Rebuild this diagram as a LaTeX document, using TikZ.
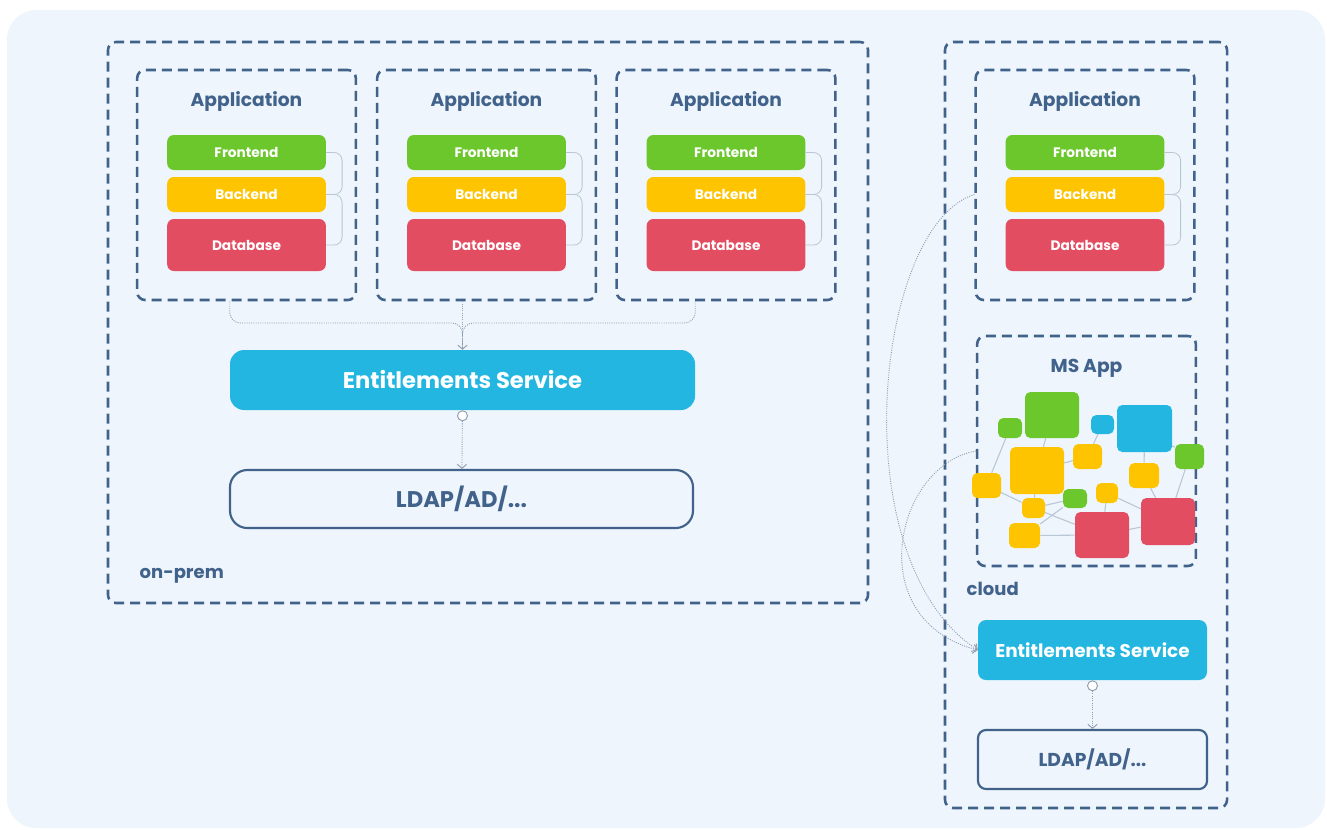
\documentclass[tikz,border=0pt]{standalone}
\usepackage{fontspec}
\setmainfont{Poppins}
\usepackage{tikz}
\usetikzlibrary{positioning,calc,arrows.meta,backgrounds}

\definecolor{bgblue}{HTML}{EEF5FC}
\definecolor{navy}{HTML}{41628B}
\definecolor{fegreen}{HTML}{6CC72C}
\definecolor{beyellow}{HTML}{FFC400}
\definecolor{dbred}{HTML}{E34D62}
\definecolor{escyan}{HTML}{23B6E1}
\definecolor{dotgray}{HTML}{8E9DB0}
\definecolor{linkgray}{HTML}{B8C6D5}

\begin{document}
\begin{tikzpicture}[x=0.75pt, y=-0.75pt,
    zone/.style={draw=navy, line width=1.9pt, dash pattern=on 7.5pt off 4.5pt, rounded corners=6pt, inner sep=0pt},
    appbox/.style={zone, minimum width=164pt, minimum height=172.5pt},
    title/.style={text=navy, font=\bfseries\fontsize{14}{16}\selectfont},
    zonelabel/.style={text=navy, font=\bfseries\fontsize{13.5}{15}\selectfont, anchor=west},
    layer/.style={rounded corners=5pt, minimum width=119pt, minimum height=26.25pt, inner sep=0pt, text=white, font=\bfseries\fontsize{10.3}{12}\selectfont},
    frontend/.style={layer, fill=fegreen},
    backend/.style={layer, fill=beyellow},
    database/.style={layer, fill=dbred, minimum height=39pt},
    service/.style={fill=escyan, text=white, inner sep=0pt, font=\bfseries\fontsize{17}{20}\selectfont},
    directory/.style={draw=navy, fill=bgblue, line width=1.6pt, text=navy, inner sep=0pt, font=\bfseries\fontsize{17}{20}\selectfont},
    bracket/.style={draw=linkgray, line width=0.6pt, rounded corners=6pt},
    flow/.style={draw=dotgray, line width=0.7pt, densely dotted, -{Straight Barb[length=3pt, width=7pt]}},
    feed/.style={flow, -},
    port/.style={circle, draw=dotgray, fill=white, line width=0.7pt, minimum size=7.5pt, inner sep=0pt},
    blob/.style={rounded corners=4pt, inner sep=0pt},
    link/.style={draw=linkgray, line width=0.8pt}
]

\useasboundingbox (0,0) rectangle (1327,829);
\begin{scope}[on background layer]
\fill[white] (0,0) rectangle (1327,829);
\fill[bgblue, rounded corners=22pt] (7,10) rectangle (1325,828);
\end{scope}

% Zones
\node[zone, minimum width=570pt, minimum height=420.75pt] (onprem) at (488,322.5) {};
\node[zone, minimum width=211.5pt, minimum height=574.5pt] (cloud) at (1086,425) {};
\node[zonelabel] (onpremlabel) at (135,576) {on-prem};
\node[zonelabel] (cloudlabel) at (962,589) {cloud};

% Application 1
\node[appbox] (app1) at (246.5,185) {};
\node[title] (app1t) at (246.5,102) {Application};
\node[frontend] (fe1) at (246.5,152.5) {Frontend};
\node[backend] (be1) at (246.5,194.5) {Backend};
\node[database] (db1) at (246.5,245) {Database};
\draw[bracket] (fe1.east) -- ++(16,0) |- (be1.east);
\draw[bracket] (be1.east) -- ++(16,0) |- (db1.east);

% Application 2
\node[appbox] (app2) at (486.5,185) {};
\node[title] (app2t) at (486.5,102) {Application};
\node[frontend] (fe2) at (486.5,152.5) {Frontend};
\node[backend] (be2) at (486.5,194.5) {Backend};
\node[database] (db2) at (486.5,245) {Database};
\draw[bracket] (fe2.east) -- ++(16,0) |- (be2.east);
\draw[bracket] (be2.east) -- ++(16,0) |- (db2.east);

% Application 3
\node[appbox] (app3) at (726,185) {};
\node[title] (app3t) at (726,102) {Application};
\node[frontend] (fe3) at (726,152.5) {Frontend};
\node[backend] (be3) at (726,194.5) {Backend};
\node[database] (db3) at (726,245) {Database};
\draw[bracket] (fe3.east) -- ++(16,0) |- (be3.east);
\draw[bracket] (be3.east) -- ++(16,0) |- (db3.east);

% Application in the cloud
\node[appbox] (app4) at (1085,185) {};
\node[title] (app4t) at (1085,102) {Application};
\node[frontend] (fe4) at (1085,152.5) {Frontend};
\node[backend] (be4) at (1085,194.5) {Backend};
\node[database] (db4) at (1085,245) {Database};
\draw[bracket] (fe4.east) -- ++(16,0) |- (be4.east);
\draw[bracket] (be4.east) -- ++(16,0) |- (db4.east);

% On-prem services
\node[service, rounded corners=10.5pt, minimum width=348.75pt, minimum height=45pt] (es) at (462.5,380) {Entitlements Service};
\node[directory, rounded corners=13pt, minimum width=347.25pt, minimum height=43.5pt] (ldap) at (461.5,499) {LDAP/AD/...};
\node[port, below=0pt of es] (esport) {};

\coordinate (merge) at (462.5,323);
\draw[feed, rounded corners=8pt] (app1.south -| es.west) |- (merge) -- (es.north);
\draw[feed, rounded corners=8pt] (app3.south -| es.east) |- (merge) -- (es.north);
\draw[flow] (app2.south -| es.north) -- (es.north);
\draw[flow] (esport) -- (ldap);

% MS App
\node[appbox] (msapp) at (1086.5,451) {};
\node[title] (msappt) at (1086.5,368) {MS App};
\node[blob, fill=fegreen, minimum width=40.5pt, minimum height=34.5pt] (g1) at (1052,415) {};
\node[blob, fill=fegreen, minimum width=18pt, minimum height=15pt] (g2) at (1010,428) {};
\node[blob, fill=escyan, minimum width=17.25pt, minimum height=14.25pt] (b1) at (1102.5,424.5) {};
\node[blob, fill=escyan, minimum width=41.25pt, minimum height=35.25pt] (b2) at (1144.5,428.5) {};
\node[blob, fill=beyellow, minimum width=40.5pt, minimum height=35.25pt] (y1) at (1037,470.5) {};
\node[blob, fill=beyellow, minimum width=21.75pt, minimum height=18.75pt] (y2) at (1087.5,456.5) {};
\node[blob, fill=fegreen, minimum width=21.75pt, minimum height=18.75pt] (g3) at (1189.5,456.5) {};
\node[blob, fill=beyellow, minimum width=21.75pt, minimum height=18.75pt] (y3) at (986.5,485.5) {};
\node[blob, fill=beyellow, minimum width=22.5pt, minimum height=18.75pt] (y4) at (1144,475.5) {};
\node[blob, fill=beyellow, minimum width=16.5pt, minimum height=15pt] (y5) at (1107,493) {};
\node[blob, fill=fegreen, minimum width=18pt, minimum height=14.25pt] (g4) at (1075,498.5) {};
\node[blob, fill=beyellow, minimum width=17.25pt, minimum height=15pt] (y6) at (1033.5,508) {};
\node[blob, fill=beyellow, minimum width=23.25pt, minimum height=18.75pt] (y7) at (1024.5,535.5) {};
\node[blob, fill=dbred, minimum width=40.5pt, minimum height=34.5pt] (r1) at (1102,535) {};
\node[blob, fill=dbred, minimum width=40.5pt, minimum height=35.25pt] (r2) at (1168,521.5) {};

\begin{scope}[on background layer]
\draw[link] (g2) -- (y3);
\draw[link] (g1) -- (y1);
\draw[link] (y1) -- (y2);
\draw[link] (b1) -- (y2);
\draw[link] (b2) -- (y4);
\draw[link] (b2) -- (g3);
\draw[link] (g3) -- (r2);
\draw[link] (y4) -- (r2);
\draw[link] (y3) -- (y6);
\draw[link] (y1) -- (y6);
\draw[link] (y6) -- (g4);
\draw[link] (g4) -- (y7);
\draw[link] (y6) -- (r1);
\draw[link] (y7) -- (r1);
\draw[link] (y5) -- (r1);
\draw[link] (y5) -- (r2);
\draw[link] (r1) -- (r2);
\end{scope}

% Cloud services
\node[service, rounded corners=6pt, minimum width=171.75pt, minimum height=45pt, font=\bfseries\fontsize{13.8}{16}\selectfont] (ces) at (1092.5,650) {Entitlements Service};
\node[directory, rounded corners=6pt, minimum width=171.75pt, minimum height=44.25pt, font=\bfseries\fontsize{14}{16}\selectfont] (cldap) at (1092.5,759.5) {LDAP/AD/...};
\node[port, below=0pt of ces] (cesport) {};
\draw[flow] (cesport) -- (cldap);

% Calls from the cloud apps
\draw[flow] (app4.west |- be4) .. controls (875,225) and (840,560) .. (ces.west);
\draw[flow] (msapp.west) .. controls (895,465) and (860,620) .. (ces.west);

\end{tikzpicture}
\end{document}
